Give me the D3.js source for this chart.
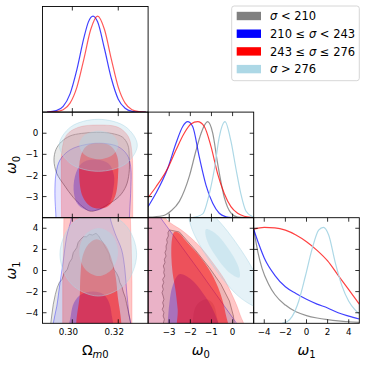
<!DOCTYPE html>
<html>
<head>
<meta charset="utf-8">
<script src="https://cdn.jsdelivr.net/npm/d3@7/dist/d3.min.js"></script>
<style>
body { margin: 0; background: #fff; }
text { font-family: "DejaVu Sans", sans-serif; fill: #000; }
</style>
</head>
<body>
<svg width="366" height="365"></svg>
<script>
// groups and legend
var groups = ["gray", "blue", "red", "lightblue"];
var legendLabels = ["σ < 210", "210 ≤ σ < 243", "243 ≤ σ ≤ 276", "σ > 276"];

// tick values
var omTicks = [0.30, 0.32];
var w0Ticks = [-3, -2, -1, 0];
var w1Ticks = [-4, -2, 0, 2, 4];

// 1D marginals: [value, density / peak]
var omBlue = [[0.289,0.001],[0.293,0.015],[0.296,0.06],[0.299,0.19],[0.302,0.445],[0.305,0.77],[0.307,0.94],[0.309,1.0],[0.311,0.94],[0.314,0.66],[0.317,0.35],[0.320,0.135],[0.323,0.04],[0.326,0.008],[0.329,0.001],[0.332,0]];
var omRed = [[0.289,0],[0.293,0.005],[0.296,0.024],[0.299,0.093],[0.302,0.26],[0.305,0.55],[0.308,0.86],[0.311,1.0],[0.314,0.86],[0.317,0.55],[0.320,0.26],[0.323,0.093],[0.326,0.024],[0.329,0.005],[0.332,0.001]];

var w0Gray = [[-4,0.005],[-3.31,0.02],[-2.92,0.07],[-2.52,0.17],[-2.05,0.43],[-1.73,0.70],[-1.49,0.88],[-1.18,1.0],[-0.94,0.88],[-0.71,0.567],[-0.39,0.21],[-0.08,0.05],[0.24,0.005],[0.6,0]];
var w0Blue = [[-4,0.115],[-3.63,0.254],[-3.07,0.515],[-2.68,0.775],[-2.36,0.95],[-2.13,1.0],[-1.89,0.95],[-1.58,0.635],[-1.26,0.34],[-0.94,0.15],[-0.63,0.046],[-0.31,0.01],[0,0]];
var w0Red = [[-4,0.21],[-3.63,0.32],[-3.07,0.515],[-2.68,0.705],[-2.29,0.88],[-1.97,0.976],[-1.65,1.0],[-1.34,0.95],[-1.02,0.74],[-0.71,0.46],[-0.39,0.25],[-0.08,0.115],[0.24,0.046],[0.55,0.015],[0.87,0.003],[1.0,0.001]];
var w0Light = [[-1.9,0],[-1.41,0.04],[-1.10,0.25],[-0.86,0.51],[-0.63,0.84],[-0.36,1.0],[-0.08,0.8],[0.16,0.51],[0.39,0.25],[0.63,0.07],[0.95,0.01],[1.0,0.005]];

var w1Gray = [[-5,0.98],[-4.6,0.74],[-4.2,0.57],[-3.6,0.41],[-3,0.3],[-2,0.19],[-1,0.12],[0,0.08],[1,0.055],[2,0.038],[3,0.025],[4,0.016],[5,0.01]];
var w1Blue = [[-5,0.98],[-4.5,0.82],[-4,0.68],[-3,0.5],[-2,0.38],[-1,0.31],[0,0.25],[1,0.2],[2,0.16],[3,0.11],[4,0.075],[5,0.045]];
var w1Red = [[-5,0.98],[-4,1.0],[-3,0.995],[-2,0.97],[-1,0.92],[0,0.85],[1,0.76],[2,0.65],[3,0.5],[4,0.35],[5,0.2]];
var w1Light = [[-2.3,0],[-1.8,0.02],[-1.37,0.07],[-0.74,0.23],[-0.11,0.49],[0.52,0.77],[1.15,0.97],[1.6,1.0],[2.1,0.92],[2.73,0.63],[3.36,0.39],[4.0,0.23],[4.6,0.14],[5.0,0.1]];

// 2D contours, Omega_m0 vs w0: [Omega, w0]
var omW0Gray95 = [[0.2920,-1.27],[0.2929,-0.76],[0.2953,-0.40],[0.2990,-0.13],[0.3040,-0.01],[0.3106,0.04],[0.3171,-0.01],[0.3219,-0.19],[0.3242,-0.56],[0.3248,-1.11],[0.3247,-1.90],[0.3234,-2.50],[0.3205,-2.98],[0.3157,-3.36],[0.3106,-3.64],[0.3077,-3.69],[0.3045,-3.48],[0.3004,-3.04],[0.2964,-2.45],[0.2932,-1.90]];
var omW0Blue95 = [[0.2929,-5.2],[0.2929,-4.1],[0.2924,-2.85],[0.2929,-1.90],[0.2946,-1.27],[0.2990,-0.79],[0.3062,-0.53],[0.3135,-0.48],[0.3200,-0.64],[0.3239,-1.03],[0.3254,-1.58],[0.3254,-2.85],[0.3248,-4.1],[0.3248,-5.2]];
var omW0Blue68 = [[0.3091,-1.24],[0.3040,-1.43],[0.3011,-2.06],[0.3007,-2.85],[0.3026,-3.40],[0.3070,-3.67],[0.3120,-3.64],[0.3161,-3.32],[0.3178,-2.69],[0.3181,-1.98],[0.3157,-1.43]];
var omW0Red95 = [[0.2953,-5.2],[0.2953,-4.1],[0.2952,-2.06],[0.2955,-0.79],[0.2975,-0.08],[0.3026,0.28],[0.3113,0.39],[0.3200,0.28],[0.3244,-0.16],[0.3260,-0.95],[0.3263,-2.37],[0.3263,-4.1],[0.3263,-5.2]];
var omW0Red68 = [[0.3113,-0.48],[0.3062,-0.60],[0.3036,-1.11],[0.3030,-2.06],[0.3045,-3.00],[0.3077,-3.45],[0.3117,-3.57],[0.3157,-3.45],[0.3186,-3.00],[0.3199,-2.06],[0.3196,-1.11],[0.3167,-0.60]];
var omW0Light95 = [[0.3283,-0.573],[0.3233,-1.444],[0.3113,-1.804],[0.2993,-1.444],[0.2943,-0.573],[0.2993,0.298],[0.3113,0.658],[0.3233,0.298]];
var omW0Light68 = [[0.3200,-0.557],[0.3175,-1.037],[0.3115,-1.236],[0.3055,-1.037],[0.3030,-0.557],[0.3055,-0.077],[0.3115,0.122],[0.3175,-0.077]];

// Omega_m0 vs w1: [Omega, w1]
var omW1Gray95 = [[0.2903,-5.57],[0.2910,-4.31],[0.2917,-3.20],[0.2926,-2.26],[0.2934,-1.63],[0.2943,-1.15],[0.2955,-0.84],[0.2964,-0.27],[0.2978,0.11],[0.2987,0.74],[0.2998,1.12],[0.3004,1.69],[0.3019,2.16],[0.3025,2.64],[0.3036,2.95],[0.3048,3.20],[0.3062,3.20],[0.3074,3.42],[0.3088,3.36],[0.3103,3.52],[0.3115,3.27],[0.3123,2.95],[0.3132,2.70],[0.3142,2.26],[0.3149,2.00],[0.3161,1.53],[0.3164,1.06],[0.3175,0.58],[0.3181,0.11],[0.3193,-0.27],[0.3202,-0.68],[0.3207,-1.15],[0.3216,-1.53],[0.3222,-2.04],[0.3231,-2.57],[0.3236,-3.11],[0.3242,-3.68],[0.3248,-4.31],[0.3254,-5.00],[0.3257,-5.57]];
var omW1Blue95 = [[0.2997,6.5],[0.2997,5.10],[0.2975,3.20],[0.2961,0.99],[0.2946,-1.22],[0.2932,-3.42],[0.2917,-5.00],[0.2914,-6.5],[0.3248,-6.5],[0.3244,-3.74],[0.3236,-1.85],[0.3229,0.05],[0.3215,1.94],[0.3186,3.52],[0.3164,5.10],[0.3164,6.5]];
var omW1Blue68 = [[0.3091,-2.00],[0.3040,-2.26],[0.3007,-3.05],[0.2993,-4.31],[0.2987,-6.5],[0.3171,-6.5],[0.3170,-3.99],[0.3157,-2.89],[0.3135,-2.26]];
var omW1Red95 = [[0.2964,6.5],[0.2961,2.0],[0.2958,-1.2],[0.2958,-6.5],[0.3260,-6.5],[0.3260,-1.2],[0.3257,2.0],[0.3251,6.5]];
var omW1Red68 = [[0.3106,2.95],[0.3070,2.48],[0.3045,1.37],[0.3036,-0.21],[0.3033,-2.10],[0.3030,-6.5],[0.3200,-6.5],[0.3196,-2.10],[0.3186,-0.21],[0.3167,1.37],[0.3142,2.48]];
var omW1Light95 = [[0.3280,1.53],[0.3231,-1.26],[0.3113,-2.42],[0.2995,-1.26],[0.2946,1.53],[0.2995,4.32],[0.3113,5.48],[0.3231,4.32]];
var omW1Light68 = [[0.3199,1.75],[0.3174,0.15],[0.3115,-0.52],[0.3055,0.15],[0.3030,1.75],[0.3055,3.36],[0.3115,4.02],[0.3174,3.36]];

// w0 vs w1: [w0, w1]
var w0W1Gray95 = [[-2.99,3.84],[-3.06,3.58],[-3.04,3.27],[-3.12,2.95],[-3.09,2.64],[-3.15,2.32],[-3.14,2.00],[-3.20,1.69],[-3.15,1.37],[-3.23,1.06],[-3.20,0.74],[-3.28,0.43],[-3.23,0.11],[-3.26,-0.21],[-3.21,-0.52],[-3.31,-0.84],[-3.26,-1.15],[-3.33,-1.47],[-3.28,-1.78],[-3.34,-2.10],[-3.29,-2.41],[-3.25,-2.73],[-3.31,-3.05],[-3.26,-3.36],[-3.33,-3.68],[-3.25,-3.99],[-3.29,-4.31],[-3.23,-4.62],[-3.28,-5.00],[-3.28,-6.2],[0.13,-6.2],[0.04,-4.31],[-0.15,-2.89],[-0.55,-1.31],[-1.10,0.27],[-1.73,1.85],[-2.52,3.65]];
var w0W1Gray68 = [[-1.26,-2.73],[-1.73,-3.36],[-1.89,-5.0],[-1.89,-6.2],[-0.71,-6.2],[-0.75,-4.31],[-0.94,-3.11]];
var w0W1Blue95 = [[-4.57,6.11],[-3.70,6.11],[-3.36,4.85],[-1.57,-0.05],[0.19,-5.0],[0.48,-6.2],[-4.57,-6.2]];
var w0W1Blue68 = [[-2.52,-0.36],[-2.84,-1.47],[-2.99,-3.05],[-3.07,-5.0],[-3.10,-6.2],[-0.63,-6.2],[-0.86,-3.99],[-1.42,-2.10],[-1.97,-0.84]];
var w0W1Red95 = [[-4.57,5.48],[-3.47,5.32],[-2.92,4.47],[-2.36,3.74],[-1.57,2.32],[-0.94,0.74],[-0.39,-0.84],[0.00,-2.41],[0.32,-3.99],[0.56,-6.2],[-4.57,-6.2]];
var w0W1Red68 = [[-2.76,3.65],[-2.87,2.95],[-2.90,1.37],[-2.84,-0.21],[-2.71,-1.78],[-2.60,-3.68],[-2.52,-6.2],[-0.23,-6.2],[-0.34,-3.99],[-0.59,-2.10],[-1.02,-0.21],[-1.57,1.37],[-2.20,2.79],[-2.55,3.58]];
var w0W1Light95 = [[1.36,-3.50],[1.30,-1.45],[0.28,2.30],[-1.11,5.54],[-2.05,6.37],[-1.99,4.32],[-0.97,0.57],[0.42,-2.66]];
var w0W1Light68 = [[0.32,-0.66],[0.29,0.29],[-0.18,2.02],[-0.82,3.52],[-1.26,3.91],[-1.23,2.96],[-0.75,1.23],[-0.11,-0.27]];

var svg = d3.select("svg"),
    margin = {left: 42.5, top: 6.5},
    size = 105.6,
    tickLen = 4;

var vars = ["om", "w0", "w1"];
var domains = {om: [0.287, 0.333], w0: [-4, 1], w1: [-5, 5]};
var tickVals = {om: omTicks, w0: w0Ticks, w1: w1Ticks};
var tickFmt = {om: d3.format(".2f"), w0: d3.format("d"), w1: d3.format("d")};
var labelShift = {om: -4, w0: 0, w1: 0};

var styles = {
    gray95: {fill: "gray", op: 0.18, stroke: "gray", sop: 0.9},
    gray68: {fill: "gray", op: 0.28},
    blue95: {fill: "blue", op: 0.1, stroke: "blue", sop: 0.45},
    blue68: {fill: "blue", op: 0.3},
    red95: {fill: "red", op: 0.22, stroke: "red", sop: 0.2},
    red68: {fill: "red", op: 0.5},
    light95: {fill: "lightblue", op: 0.32, stroke: "lightblue", sop: 0.6},
    light68: {fill: "lightblue", op: 0.42}
};

function makePanel(row, col) {
    var g = svg.append("g")
        .attr("transform", "translate(" + (margin.left + col * size) + "," + (margin.top + row * size) + ")");
    var id = "clip" + row + col;
    g.append("clipPath").attr("id", id)
        .append("rect").attr("width", size).attr("height", size);
    var x = d3.scaleLinear().domain(domains[vars[col]]).range([0, size]);
    var y = row == col
        ? d3.scaleLinear().domain([0, 1.1]).range([size, 0])
        : d3.scaleLinear().domain(domains[vars[row]]).range([size, 0]);
    var plot = g.append("g").attr("clip-path", "url(#" + id + ")");
    return {g: g, plot: plot, x: x, y: y, row: row, col: col};
}

function shape(p, pts, st, curve) {
    var line = d3.line()
        .x(function (d) { return p.x(d[0]); })
        .y(function (d) { return p.y(d[1]); })
        .curve(curve || d3.curveCatmullRomClosed);
    p.plot.append("path")
        .attr("d", line(pts))
        .attr("fill", st.fill)
        .attr("fill-opacity", st.op)
        .attr("stroke", st.stroke || "none")
        .attr("stroke-opacity", st.sop || 0)
        .attr("stroke-width", 0.8);
}

function curve1d(p, pts, color, op) {
    var line = d3.line()
        .x(function (d) { return p.x(d[0]); })
        .y(function (d) { return p.y(d[1]); })
        .curve(d3.curveMonotoneX);
    p.plot.append("path")
        .attr("d", line(pts))
        .attr("fill", "none")
        .attr("stroke", color)
        .attr("stroke-opacity", op)
        .attr("stroke-width", 1.2);
}

function frame(p) {
    var g = p.g;
    var xv = vars[p.col];
    tickVals[xv].forEach(function (t) {
        var tx = p.x(t);
        g.append("line").attr("x1", tx).attr("x2", tx).attr("y1", size).attr("y2", size - tickLen);
        g.append("line").attr("x1", tx).attr("x2", tx).attr("y1", 0).attr("y2", tickLen);
    });
    if (p.row > 0) {
        var yv = vars[p.row];
        var ys = d3.scaleLinear().domain(domains[yv]).range([size, 0]);
        tickVals[yv].forEach(function (t) {
            var ty = ys(t);
            g.append("line").attr("x1", 0).attr("x2", tickLen).attr("y1", ty).attr("y2", ty);
            g.append("line").attr("x1", size).attr("x2", size - tickLen).attr("y1", ty).attr("y2", ty);
        });
        if (p.col == 0) {
            tickVals[yv].forEach(function (t) {
                g.append("text")
                    .attr("x", -4.3).attr("y", ys(t) + 3.1)
                    .attr("text-anchor", "end")
                    .attr("font-size", "8.7px")
                    .text(tickFmt[yv](t));
            });
        }
    }
    if (p.row == 2) {
        tickVals[xv].forEach(function (t) {
            g.append("text")
                .attr("x", p.x(t) + labelShift[xv]).attr("y", size + 12)
                .attr("text-anchor", "middle")
                .attr("font-size", "8.7px")
                .text(tickFmt[xv](t));
        });
    }
    g.selectAll("line").attr("stroke", "#000").attr("stroke-width", 0.8);
    g.append("rect")
        .attr("width", size).attr("height", size)
        .attr("fill", "none").attr("stroke", "#000").attr("stroke-width", 0.9);
}

// diagonal panels
var d11 = makePanel(0, 0);
curve1d(d11, omBlue, "blue", 0.75);
curve1d(d11, omRed, "red", 0.65);
frame(d11);

var d22 = makePanel(1, 1);
curve1d(d22, w0Gray, "gray", 0.85);
curve1d(d22, w0Blue, "blue", 0.75);
curve1d(d22, w0Red, "red", 0.75);
curve1d(d22, w0Light, "lightblue", 1);
frame(d22);

var d33 = makePanel(2, 2);
curve1d(d33, w1Gray, "gray", 0.85);
curve1d(d33, w1Blue, "blue", 0.75);
curve1d(d33, w1Red, "red", 0.75);
curve1d(d33, w1Light, "lightblue", 1);
frame(d33);

// Omega vs w0
var p21 = makePanel(1, 0);
shape(p21, omW0Gray95, styles.gray95);
shape(p21, omW0Blue95, styles.blue95);
shape(p21, omW0Blue68, styles.blue68);
shape(p21, omW0Red95, styles.red95);
shape(p21, omW0Red68, styles.red68);
shape(p21, omW0Light95, styles.light95);
shape(p21, omW0Light68, styles.light68);
frame(p21);

// Omega vs w1
var p31 = makePanel(2, 0);
shape(p31, omW1Gray95, styles.gray95, d3.curveLinearClosed);
shape(p31, omW1Blue95, styles.blue95);
shape(p31, omW1Blue68, styles.blue68);
shape(p31, omW1Red95, styles.red95, d3.curveLinearClosed);
shape(p31, omW1Red68, styles.red68);
shape(p31, omW1Light95, styles.light95);
shape(p31, omW1Light68, styles.light68);
frame(p31);

// w0 vs w1
var p32 = makePanel(2, 1);
shape(p32, w0W1Gray95, styles.gray95, d3.curveLinearClosed);
shape(p32, w0W1Gray68, styles.gray68);
shape(p32, w0W1Blue95, styles.blue95, d3.curveLinearClosed);
shape(p32, w0W1Blue68, styles.blue68);
shape(p32, w0W1Red95, styles.red95);
shape(p32, w0W1Red68, styles.red68);
shape(p32, w0W1Light95, styles.light95);
shape(p32, w0W1Light68, styles.light68);
frame(p32);

// axis labels
var bottomY = margin.top + 3 * size + 31.5;
var lx = svg.append("text").attr("x", margin.left + 0.5 * size).attr("y", bottomY)
    .attr("text-anchor", "middle").attr("font-size", "14px");
lx.append("tspan").text("Ω");
lx.append("tspan").attr("font-size", "10px").attr("dy", 3.5).attr("font-style", "italic").text("m");
lx.append("tspan").attr("font-size", "10px").text("0");

[[1, "0"], [2, "1"]].forEach(function (d) {
    var t = svg.append("text").attr("x", margin.left + (d[0] + 0.5) * size).attr("y", bottomY)
        .attr("text-anchor", "middle").attr("font-size", "14px");
    t.append("tspan").attr("font-style", "italic").text("ω");
    t.append("tspan").attr("font-size", "10px").attr("dy", 3.5).text(d[1]);
    var r = svg.append("text")
        .attr("transform", "translate(16," + (margin.top + (d[0] + 0.5) * size) + ") rotate(-90)")
        .attr("text-anchor", "middle").attr("font-size", "14px");
    r.append("tspan").attr("font-style", "italic").text("ω");
    r.append("tspan").attr("font-size", "10px").attr("dy", 3.5).text(d[1]);
});

// legend
var legend = svg.append("g").attr("transform", "translate(231.7,6)");
legend.append("rect")
    .attr("width", 127.6).attr("height", 74.7).attr("rx", 2.5)
    .attr("fill", "#fff").attr("fill-opacity", 0.8)
    .attr("stroke", "#cccccc").attr("stroke-width", 0.8);
groups.forEach(function (c, i) {
    var cy = 10 + i * 17.7;
    legend.append("rect")
        .attr("x", 5).attr("y", cy - 4.2)
        .attr("width", 24.3).attr("height", 8.4)
        .attr("fill", c);
    var t = legend.append("text")
        .attr("x", 38.3).attr("y", cy + 4.2)
        .attr("font-size", "11.5px");
    legendLabels[i].split("σ").forEach(function (part, j) {
        if (j > 0) t.append("tspan").attr("font-style", "italic").text("σ");
        t.append("tspan").text(part);
    });
});
</script>
</body>
</html>
